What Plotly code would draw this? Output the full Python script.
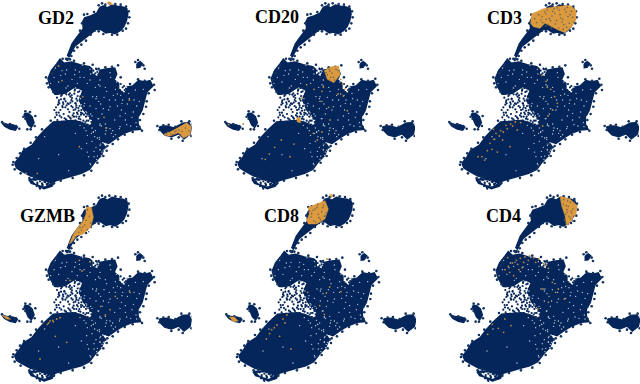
import plotly.graph_objects as go

NAVY = "#05265a"
ORANGE = "#dc9a3e"

panel_names = ["GD2", "CD20", "CD3", "GZMB", "CD8", "CD4"]
panel_left = [0, 223.3, 447.3, 0, 224.3, 448.3]
panel_top = [0, 0, 0, 192.3, 192.3, 192.3]
title_x = [56, 277, 504, 47, 281, 503]
title_y = [18, 17, 18, 216, 216, 216]

top_island = [(300,22),(312,18),(322,24),(336,15),(352,19),(368,21),(380,26),(383,42),(379,62),(371,80),(360,92),(345,101),(330,96),(318,99),(302,88),(288,88),(276,98),(266,106),(252,118),(236,129),(224,138),(216,153),(207,170),(203,166),(210,150),(216,132),(226,118),(240,100),(250,86),(248,66),(254,54),(272,48),(290,40)]
middle_mass = [(170,192),(180,178),(192,190),(214,186),(240,194),(268,200),(284,214),(304,210),(322,206),(344,204),(350,222),(342,240),(358,252),(378,262),(398,258),(416,242),(434,246),(450,242),(458,258),(440,276),(434,298),(426,330),(414,352),(414,372),(422,388),(398,390),(372,400),(348,414),(326,430),(306,424),(286,404),(268,384),(264,350),(248,330),(232,300),(192,288),(164,282),(150,258),(144,236),(154,212)]
lower_lobe = [(44,490),(60,470),(70,452),(96,436),(114,412),(134,390),(160,366),(200,362),(236,360),(262,378),(280,392),(298,416),(314,440),(304,466),(286,484),(268,508),(244,520),(216,528),(186,536),(160,544),(124,536),(92,528),(66,514),(50,504)]
left_island = [(6,368),(20,373),(40,375),(52,381),(46,390),(30,387),(14,378)]
small_island = [(72,341),(84,340),(96,350),(102,368),(94,382),(85,374),(79,360)]
tiny_island = [(411,191),(420,185),(427,191),(419,202),(411,203)]
right_island = [(478,380),(500,378),(522,384),(548,370),(566,368),(574,382),(570,402),(552,416),(536,401),(514,410),(494,404),(482,392)]
bottom_tail = [(86,538),(120,536),(164,544),(156,558),(132,566),(108,554),(94,550)]

sparse_holes = [[(166,286),(196,282),(226,262),(246,272),(236,300),(248,330),(276,362),(272,376),(242,364),(206,356),(180,362),(160,344),(172,318)],
                [(278,206),(298,212),(292,228),(278,222)],
                [(358,246),(382,262),(372,278),(358,266)]]
bottom_holes = [[(96,542),(124,540),(150,550),(134,560),(108,552)]]

navy_speck_x = [171,177,183,189,193,199,206,211,217,223,229,234,241,168,174,181,187,196,203,208,214,221,227,233,239,246,170,176,184,191,198,205,212,218,225,231,238,244,252,165,172,179,186,194,201,209,215,222,229,236,243,250,258,163,169,176,183,190,197,204,211,218,226,233,240,247,255,263,270,172,180,188,195,203,210,216,224,231,238,246,253,261,268,274,178,186,193,200,207,214,221,229,235,243,250,258,265,272,196,204,212,219,227,234,241,249,256,263,270,215,225,236,248,258,267,276,229,238,247,260,270,222,226,232,229,236,280,286,290,295,284,292,282,288,362,368,374,366,372,360,378,98,106,112,120,127,133,140,146,152,158,102,110,118,126,134,142,150,112,120,128,136,144,126,134]
navy_speck_y = [293,301,288,307,296,283,312,290,304,281,296,276,289,322,314,330,318,322,310,336,318,330,310,342,318,300,345,338,352,342,358,348,356,346,362,338,350,330,344,352,360,347,366,355,362,352,368,350,368,356,344,362,340,330,338,306,298,312,304,328,308,322,328,288,302,312,330,346,356,278,270,322,274,268,280,294,272,264,274,282,296,318,340,366,310,284,298,316,284,300,340,316,324,338,372,350,362,376,368,376,372,380,362,378,358,376,366,374,380,286,268,258,260,278,330,344,350,372,340,362,380,262,310,302,322,332,212,220,208,224,228,216,224,206,252,262,270,276,258,270,266,546,540,552,544,556,545,552,540,549,544,536,558,562,550,562,556,558,548,566,554,546,550,540,564]

edge_navy_x = [296,306,316,328,346,362,378,386,388,384,378,368,352,336,310,296,284,272,258,244,232,222,214,210,204,198,246,240,252,262,282,170,163,157,148,141,138,146,160,176,188,202,222,252,278,296,316,336,354,362,390,414,434,456,462,464,446,440,438,430,420,418,426,398,374,354,338,322,38,50,60,72,92,108,126,152,184,222,258,298,316,320,310,292,274,252,218,182,158,122,88,62,44,40,102,112,128,144,162,6,16,30,48,58,12,70,76,90,106,104,76,82,92,406,414,430,434,472,478,490,506,526,544,568,578,580,574,548,536,514]
edge_navy_y = [16,10,14,10,12,14,20,34,52,70,86,92,104,104,102,94,92,104,122,134,142,152,168,178,176,176,70,92,44,42,36,196,210,220,240,250,232,262,276,286,176,180,182,190,194,206,202,200,196,232,252,238,242,236,254,270,280,304,320,342,360,380,392,396,404,418,432,438,494,474,460,446,428,412,388,362,358,356,372,416,442,452,468,488,512,526,534,542,550,542,534,520,508,486,530,542,548,552,550,366,374,372,378,386,372,350,334,336,348,378,356,388,388,186,180,196,206,378,390,376,374,380,364,364,372,394,408,422,412,416]

white_speck_x = [152,162,176,186,196,204,216,226,238,252,262,272,286,300,316,332,346,368,386,402,418,430,198,232,278,296,312,330,346,364,382,400,418,288,306,326,344,360,380,408,300,320,338,296,316,334,358,392,410,116,176,206,260,284,300,134,226,252,280,292,302,306,316,282,270,262,276,288,298,304,244,266,290,300,274,258,240,272,292,300,282,262,310,260,276,294,304,286,316,330,346,360,376,340,318,300,272,256,244,232,270,288,302,340,366,388,362,410,296,320,352,382,406,240,270,300,330,350,290,328,310,352,376,396,166,182,200,224,248,270,252,258,264,242,254,276,280,298,308]
white_speck_y = [250,232,246,212,222,258,238,210,216,232,250,222,262,240,262,232,268,300,280,300,304,268,264,250,290,304,292,320,300,330,312,336,350,326,342,330,360,348,374,368,372,384,392,356,372,400,386,378,380,476,464,512,430,410,450,410,400,384,396,414,432,456,430,470,490,406,424,442,418,466,446,470,478,448,400,392,376,494,468,436,454,456,450,338,348,356,378,392,402,386,404,380,360,410,392,376,342,362,314,284,318,296,312,286,310,296,286,318,254,274,282,256,270,232,240,258,218,246,290,300,326,318,340,352,204,226,210,224,196,208,318,334,346,296,310,384,396,412,428]

orange_polys = {
    "GD2": [[(492,402),(510,396),(525,388),(545,378),(560,368),(574,380),(570,404),(550,414),(535,398),(510,408),(498,408)],
            [(320,8),(330,5),(340,15),(330,13)]],
    "CD20": [[(303,212),(322,200),(346,198),(350,224),(332,248),(312,238)],
             [(220,354),(230,352),(232,368),(222,366)]],
    "CD3": [[(253,42),(288,26),(323,20),(368,16),(386,30),(386,60),(373,80),(353,98),(333,90),(293,70),(278,85),(258,80),(250,70)]],
    "GZMB": [[(258,45),(274,45),(280,75),(272,105),(250,125),(230,130),(215,150),(208,155),(218,130),(230,110),(250,85),(258,65)],
             [(6,369),(22,373),(32,381),(20,380)]],
    "CD8": [[(252,45),(277,35),(302,25),(312,50),(302,80),(277,95),(252,95),(247,85),(255,65)],
            [(15,374),(30,374),(42,386),(28,388)],
            [(315,6),(326,8),(322,16)]],
    "CD4": [[(335,12),(365,20),(387,40),(383,65),(365,90),(355,100),(350,70),(340,40)]],
}
orange_navy_x = {
    "GD2": [498,504,512,524,536,546,556,566,518,542,500,528],
    "CD20": [312,320,330,338,318,326,344,308,334,322],
    "CD3": [262,274,286,296,306,316,328,338,350,362,372,380,268,280,292,302,314,324,336,346,358,368,300,310,322,334,344,356,366,376,284,296,320,340,352,296,312,330,348,360],
    "GZMB": [262,268,258,272,248,262,236,244,226,254,266,240],
    "CD8": [262,272,284,296,306,268,280,292,304,260,274,288,298,266,282,294,256,278,300],
    "CD4": [345,352,360,370,378,348,356,366,374,352,362,372,356,366,360,368,354,376,346,358],
}
orange_navy_y = {
    "GD2": [400,396,402,396,390,394,384,392,404,404,406,392],
    "CD20": [224,214,232,208,208,220,212,218,240,232],
    "CD3": [56,44,68,42,56,34,62,44,74,50,34,66,68,60,36,74,48,72,30,58,82,44,30,62,40,84,66,36,70,52,50,58,26,54,28,78,84,24,88,22],
    "GZMB": [52,72,84,92,104,112,120,114,134,98,118,106],
    "CD8": [64,50,76,46,62,86,38,58,70,74,90,82,38,54,66,88,56,46,72],
    "CD4": [36,66,42,62,30,84,52,78,50,92,72,86,60,30,96,56,40,72,22,26],
}
orange_speck_x = {
    "GD2": [176,186,112,78,238,312,318,388,248,216],
    "CD20": [250,272,236,290,316,320,360,372,344,138,212,154,174,200,126,282,296,270,60,86,16,320,300,296,352,358,364],
    "CD3": [128,142,156,168,180,190,204,146,166,188,134,150,310,322,330,296,300,284,316,302,286,112,92,176,160,196,210,220,140,120,104,138],
    "GZMB": [146,158,170,180,246,270,210,330,346,390,166,200,120,302,316,238,150,142,160],
    "CD8": [142,158,176,188,126,306,316,350,286,300,166,200,250,308,136,150,182],
    "CD4": [170,180,192,204,216,230,244,256,272,286,300,184,196,212,226,150,166,188,170,132,118,322,300,330,348,268,284,312,178,208,222,240,262,294],
}
orange_speck_y = {
    "GD2": [198,242,520,520,440,352,384,300,290,352],
    "CD20": [254,268,294,304,322,360,288,332,282,462,432,442,420,470,478,420,396,400,372,388,374,240,262,274,238,252,268],
    "CD3": [430,418,408,396,386,372,366,400,420,440,448,456,268,290,310,244,262,226,330,348,378,480,470,376,392,378,390,368,418,452,470,388],
    "GZMB": [392,384,380,376,236,208,264,352,312,300,432,450,500,342,368,204,386,396,388],
    "CD8": [412,398,380,368,440,302,284,298,340,366,432,470,300,200,424,406,392],
    "CD4": [232,222,212,204,198,194,190,196,200,214,228,240,250,232,210,408,420,400,380,396,426,300,330,290,320,350,290,270,196,216,226,204,210,218],
}


def closed(polys):
    xs, ys = [], []
    for p in polys:
        xs += [a for a, _ in p] + [p[0][0], None]
        ys += [b for _, b in p] + [p[0][1], None]
    return xs, ys


navy_x, navy_y = closed([top_island, middle_mass, lower_lobe, left_island, small_island, tiny_island, right_island, bottom_tail])
hole_x, hole_y = closed(sparse_holes + bottom_holes)

fig = go.Figure()
for i, name in enumerate(panel_names):
    ax = "" if i == 0 else str(i + 1)
    xa, ya = "x" + ax, "y" + ax
    common = dict(xaxis=xa, yaxis=ya, hoverinfo="skip", showlegend=False)
    fig.add_trace(go.Scatter(x=navy_x, y=navy_y, mode="lines", fill="toself", fillcolor=NAVY,
                             line=dict(color=NAVY, width=1.6), **common))
    fig.add_trace(go.Scatter(x=edge_navy_x, y=edge_navy_y, mode="markers",
                             marker=dict(color="#123260", size=2.6), **common))
    fig.add_trace(go.Scatter(x=hole_x, y=hole_y, mode="lines", fill="toself", fillcolor="white",
                             line=dict(color="white", width=0), **common))
    fig.add_trace(go.Scatter(x=navy_speck_x, y=navy_speck_y, mode="markers",
                             marker=dict(color=NAVY, size=2.2), **common))
    fig.add_trace(go.Scatter(x=white_speck_x, y=white_speck_y, mode="markers",
                             marker=dict(color="#cfd6e2", size=1.3), **common))
    ox, oy = closed(orange_polys[name])
    fig.add_trace(go.Scatter(x=ox, y=oy, mode="lines", fill="toself", fillcolor=ORANGE,
                             line=dict(color=ORANGE, width=0.5), **common))
    fig.add_trace(go.Scatter(x=orange_navy_x[name], y=orange_navy_y[name], mode="markers",
                             marker=dict(color="#6a6558", size=1.6), **common))
    fig.add_trace(go.Scatter(x=orange_speck_x[name], y=orange_speck_y[name], mode="markers",
                             marker=dict(color="#b9863f", size=1.8), **common))
    fig.layout["xaxis" + ax] = dict(domain=[panel_left[i] / 640, (panel_left[i] + 191.7) / 640],
                                    range=[0, 575], visible=False, fixedrange=True)
    fig.layout["yaxis" + ax] = dict(domain=[1 - (panel_top[i] + 191.7) / 384, 1 - panel_top[i] / 384],
                                    range=[575, 0], visible=False, fixedrange=True)
    fig.add_annotation(x=title_x[i] / 640, y=1 - title_y[i] / 384, xref="paper", yref="paper",
                       text="<b>" + name + "</b>", showarrow=False, xanchor="center", yanchor="middle",
                       font=dict(family="Liberation Serif", size=18, color="black"))

fig.update_layout(width=640, height=384, margin=dict(l=0, r=0, t=0, b=0),
                  paper_bgcolor="white", plot_bgcolor="white")
fig.write_html("out.html", config={"displayModeBar": False},
               post_script="document.body.style.margin='0';document.body.style.overflow='hidden';")
